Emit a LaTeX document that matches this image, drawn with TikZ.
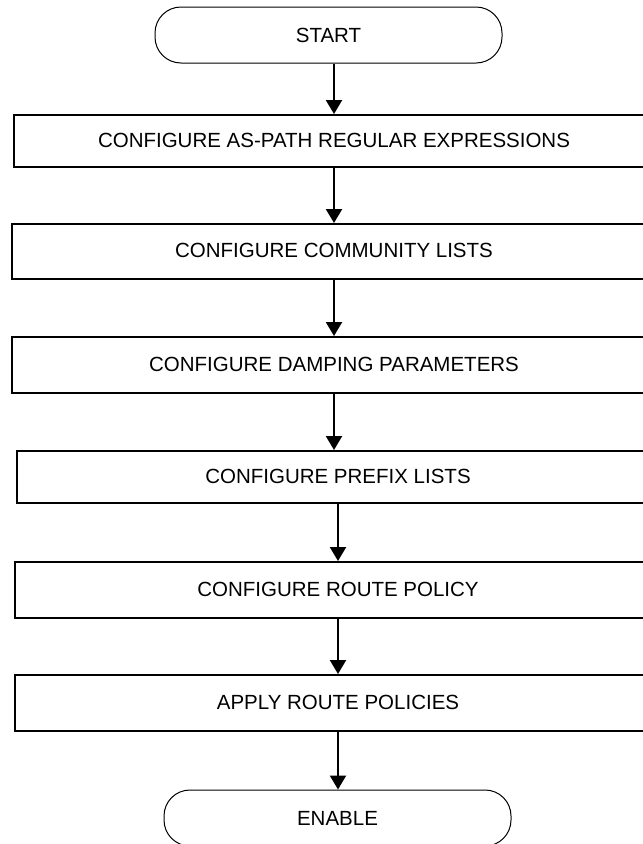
\documentclass[tikz,border=0pt]{standalone}
\usepackage{fontspec}
\setmainfont{Liberation Sans}
\usetikzlibrary{arrows.meta}
\begin{document}
\begin{tikzpicture}[x=1pt,y=-1pt,
  box/.style={draw, line width=2.4pt, anchor=north west, inner sep=0pt},
  term/.style={draw, line width=1pt, rounded corners=26pt, minimum width=347pt, minimum height=56pt, inner sep=0pt, font=\fontsize{20.5}{22}\selectfont},
  lbl/.style={inner sep=0pt, font=\fontsize{20.5}{22}\selectfont},
  arr/.style={line width=2.2pt, -{Triangle[width=16pt,length=14pt]}}]
\useasboundingbox (0,0) rectangle (643,844);
\clip (0,0) rectangle (643,844);
\fill[white] (0,0) rectangle (643,844);
% terminals
\node[term] (start) at (328.5,35) {START};
\node[term] (enable) at (337.5,818) {ENABLE};
% boxes
\node[box, minimum width=650pt, minimum height=52pt] (b1) at (13,114) {};
\node[box, minimum width=650pt, minimum height=55pt] (b2) at (11,223) {};
\node[box, minimum width=650pt, minimum height=56pt] (b3) at (11,336) {};
\node[box, minimum width=650pt, minimum height=52pt] (b4) at (16,450) {};
\node[box, minimum width=650pt, minimum height=56pt] (b5) at (14,561) {};
\node[box, minimum width=650pt, minimum height=56pt] (b6) at (14,674) {};
% labels
\node[lbl] (t1) at (334,140) {CONFIGURE AS-PATH REGULAR EXPRESSIONS};
\node[lbl] (t2) at (334,250.5) {CONFIGURE COMMUNITY LISTS};
\node[lbl] (t3) at (334,364) {CONFIGURE DAMPING PARAMETERS};
\node[lbl] (t4) at (338,476) {CONFIGURE PREFIX LISTS};
\node[lbl] (t5) at (338,589) {CONFIGURE ROUTE POLICY};
\node[lbl] (t6) at (338,702) {APPLY ROUTE POLICIES};
% connectors
\draw[arr] (t1 |- start.south) -- (t1 |- b1.north);
\draw[arr] (t1 |- b1.south) -- (t1 |- b2.north);
\draw[arr] (t2 |- b2.south) -- (t2 |- b3.north);
\draw[arr] (t3 |- b3.south) -- (t3 |- b4.north);
\draw[arr] (t4 |- b4.south) -- (t4 |- b5.north);
\draw[arr] (t5 |- b5.south) -- (t5 |- b6.north);
\draw[arr] (t6 |- b6.south) -- (t6 |- enable.north);
\end{tikzpicture}
\end{document}
